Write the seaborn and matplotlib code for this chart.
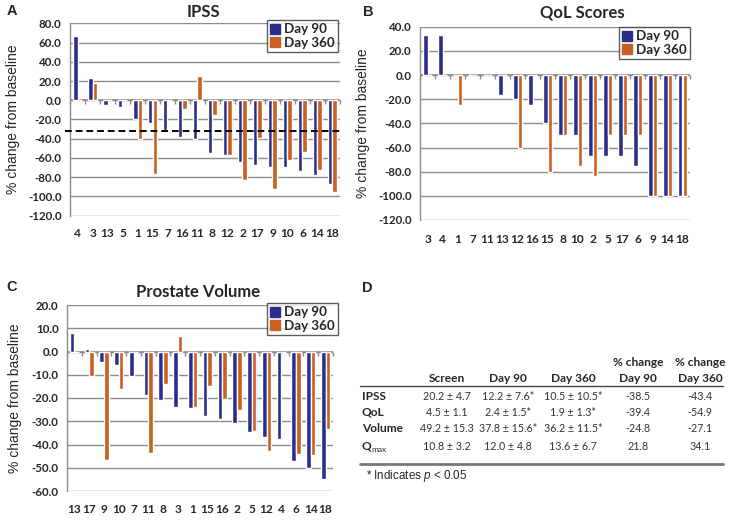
import numpy as np
import pandas as pd
import matplotlib
matplotlib.use("Agg")
import matplotlib.pyplot as plt
from matplotlib.ticker import FormatStrFormatter
from matplotlib.lines import Line2D
import seaborn as sns

# ---------------- data ----------------
ipss_patients = ["4", "3", "13", "5", "1", "15", "7", "16", "11", "8", "12", "2", "17", "9", "10", "6", "14", "18"]
ipss_day90 = [66.7, 23.3, -4.5, -7.0, -20.0, -23.5, -31.0, -38.0, -40.0, -55.0, -57.0, -64.5, -67.0, -69.5, -69.5, -74.0, -77.5, -87.0]
ipss_day360 = [0.0, 18.0, 0.0, 0.0, -40.0, -77.0, 0.0, -9.5, 25.0, -15.0, -57.0, -82.5, -39.0, -92.5, -62.0, -53.5, -72.5, -95.5]
ipss_threshold = -32.0

qol_patients = ["3", "4", "1", "7", "11", "13", "12", "16", "15", "8", "10", "2", "5", "17", "6", "9", "14", "18"]
qol_day90 = [33.3, 33.3, 0.0, 0.0, 0.0, -16.7, -20.0, -25.0, -40.0, -50.0, -50.0, -66.7, -66.7, -66.7, -75.0, -100.0, -100.0, -100.0]
qol_day360 = [0.0, 0.0, -25.0, 0.0, 0.0, 0.0, -60.0, 0.0, -80.0, -50.0, -75.0, -83.3, -50.0, -50.0, -50.0, -100.0, -100.0, -100.0]

vol_patients = ["13", "17", "9", "10", "7", "11", "8", "3", "1", "15", "16", "2", "5", "12", "4", "6", "14", "18"]
vol_day90 = [7.8, 1.0, -4.5, -5.8, -10.7, -18.5, -21.0, -24.0, -24.3, -27.7, -29.0, -30.7, -34.5, -36.6, -37.5, -47.2, -50.0, -54.8]
vol_day360 = [0.0, -10.5, -46.7, -16.0, 0.0, -43.5, -13.8, 6.5, -23.7, -15.0, -20.6, -25.3, -34.3, -43.0, 0.0, -44.0, -44.5, -33.2]

series_names = ["Day 90", "Day 360"]

table_cols = ["Screen", "Day 90", "Day 360", "Day 90", "Day 360"]
table_rows = ["IPSS", "QoL", "Volume", "Q"]
table_vals = [
    ["20.2 ± 4.7", "12.2 ± 7.6*", "10.5 ± 10.5*", "-38.5", "-43.4"],
    ["4.5 ± 1.1", "2.4 ± 1.5*", "1.9 ± 1.3*", "-39.4", "-54.9"],
    ["49.2 ± 15.3", "37.8 ± 15.6*", "36.2 ± 11.5*", "-24.8", "-27.1"],
    ["10.8 ± 3.2", "12.0 ± 4.8", "13.6 ± 6.7", "21.8", "34.1"],
]

# ---------------- style ----------------
sns.set_style("white")
plt.rcParams["font.family"] = ["Lato", "DejaVu Sans"]
plt.rcParams["axes.unicode_minus"] = False
plt.rcParams["mathtext.fontset"] = "custom"
plt.rcParams["mathtext.rm"] = "Liberation Sans"
plt.rcParams["mathtext.it"] = "Liberation Sans:italic"

BLUE = "#2B2D8E"
ORANGE = "#C9601F"
GRID = "#8C8C8C"
W, H = 729, 520
ARIAL = ["Liberation Sans", "DejaVu Sans"]

fig = plt.figure(figsize=(W / 100, H / 100), dpi=100)


def fx(px):
    return px / W


def fy(py):
    return 1 - py / H


def make_df(patients, d90, d360):
    return pd.DataFrame({
        "patient": patients * 2,
        "value": list(d90) + list(d360),
        "visit": [series_names[0]] * len(patients) + [series_names[1]] * len(patients),
    })


def panel(rect, patients, d90, d360, ylim, step, title, title_xy, letter, letter_xy,
          legend_ur, ylabel_x, tickpad):
    ax = fig.add_axes(rect)
    df = make_df(patients, d90, d360)
    sns.barplot(data=df, x="patient", y="value", hue="visit", order=patients,
                hue_order=series_names, palette=[BLUE, ORANGE], saturation=1,
                width=0.62, ax=ax, errorbar=None, zorder=3)
    ax.set_ylim(*ylim)
    ax.set_xlim(-0.5, len(patients) - 0.5)
    ax.set_yticks(np.arange(ylim[0], ylim[1] + step / 2, step))
    ax.yaxis.set_major_formatter(FormatStrFormatter("%.1f"))
    ax.grid(axis="y", color=GRID, linewidth=1.0, zorder=0)
    ax.set_axisbelow(True)
    for s in ["top", "right", "bottom"]:
        ax.spines[s].set_visible(False)
    ax.spines["left"].set_color(GRID)
    ax.spines["left"].set_linewidth(1.0)
    ax.tick_params(axis="y", length=4, color=GRID, width=1, pad=2, labelsize=8.3)
    ax.tick_params(axis="x", length=0, pad=tickpad, labelsize=8.6)
    for lab in ax.get_xticklabels() + ax.get_yticklabels():
        lab.set_fontweight("bold")
    ax.set_xlabel("")
    ax.set_ylabel("% change from baseline", family=ARIAL, fontsize=10)
    ax.yaxis.set_label_coords(ylabel_x, 0.5)
    # zero line with category tick marks
    frac0 = (0 - ylim[0]) / (ylim[1] - ylim[0])
    ax.axhline(0, color=GRID, linewidth=1.2, zorder=1)
    sec = ax.secondary_xaxis(frac0)
    sec.set_xticks(np.arange(len(patients) + 1) - 0.5)
    sec.tick_params(axis="x", direction="out", length=3, color=GRID, width=1,
                    labelbottom=False, labeltop=False)
    sec.spines["bottom"].set_visible(False)
    sec.spines["top"].set_visible(False)
    sec.xaxis.set_ticks_position("bottom")
    sec.set_xticklabels([])
    # legend
    handles = [Line2D([], [], marker="s", linestyle="none", markersize=7, color=c) for c in [BLUE, ORANGE]]
    old = ax.get_legend()
    if old is not None:
        old.remove()
    leg = ax.legend(handles, series_names, loc="upper right", bbox_to_anchor=legend_ur,
                    bbox_transform=fig.transFigure, frameon=True, fancybox=False,
                    edgecolor="#333333", borderpad=0.25, labelspacing=0.1,
                    handlelength=0.7, handletextpad=0.35, borderaxespad=0,
                    prop={"family": ["Lato", "DejaVu Sans"], "weight": "bold", "size": 9.6})
    leg.get_frame().set_linewidth(1.0)
    leg.set_zorder(10)
    fig.text(fx(title_xy[0]), fy(title_xy[1]), title, ha="center", va="center",
             fontsize=12, fontweight="bold")
    fig.text(fx(letter_xy[0]), fy(letter_xy[1]), letter, ha="center", va="center",
             fontsize=10.5, fontweight="bold", family=ARIAL)
    return ax


def rect(l, t, r, b):
    return [fx(l), fy(b), fx(r) - fx(l), fy(t) - fy(b)]


axA = panel(rect(70, 23.3, 340, 215.7), ipss_patients, ipss_day90, ipss_day360, (-120, 80), 20,
            "IPSS", (203, 12), "A", (12, 11), (fx(338), fy(20)), -0.185, 9)
axA.axhline(ipss_threshold, xmin=-0.02, xmax=1.012, color="black", linestyle=(0, (3.5, 2)),
            linewidth=1.4, clip_on=False, zorder=5)

axB = panel(rect(420, 26.7, 690, 220), qol_patients, qol_day90, qol_day360, (-120, 40), 20,
            "QoL Scores", (582, 12), "B", (368, 12), (fx(690), fy(27)), -0.185, 10)

axC = panel(rect(67, 305, 333, 491), vol_patients, vol_day90, vol_day360, (-60, 20), 10,
            "Prostate Volume", (198, 292), "C", (12, 287), (fx(338), fy(303)), -0.17, 9.5)

# ---------------- panel D table ----------------
fig.text(fx(367), fy(288), "D", ha="center", va="center", fontsize=10.5, fontweight="bold",
         family=ARIAL)
col_x = [447, 508, 573, 638, 700]
for x in col_x[3:]:
    fig.text(fx(x), fy(362), "% change", ha="center", va="center", fontsize=8.6, fontweight="bold")
for x, c in zip(col_x, table_cols):
    fig.text(fx(x), fy(378), c, ha="center", va="center", fontsize=8.6, fontweight="bold")
fig.add_artist(Line2D([fx(360), fx(723)], [fy(386), fy(386)], color="#444444", linewidth=1.0))
row_y = [396, 412, 429, 446]
for y, name, vals in zip(row_y, table_rows, table_vals):
    fig.text(fx(362), fy(y), name, ha="left", va="center", fontsize=8.6, fontweight="bold")
    if name == "Q":
        fig.text(fx(371), fy(y + 3), "max", ha="left", va="center", fontsize=6)
    for x, v in zip(col_x, vals):
        fig.text(fx(x), fy(y), v, ha="center", va="center", fontsize=7.7, color="#333333")
fig.add_artist(Line2D([fx(360), fx(723)], [fy(464), fy(464)], color="#777777", linewidth=2.0))
fig.text(fx(366), fy(476), r"* Indicates $\it{p}$ < 0.05", ha="left", va="center",
         fontsize=8.4, family=ARIAL)

fig.savefig("out.png", dpi=100)
